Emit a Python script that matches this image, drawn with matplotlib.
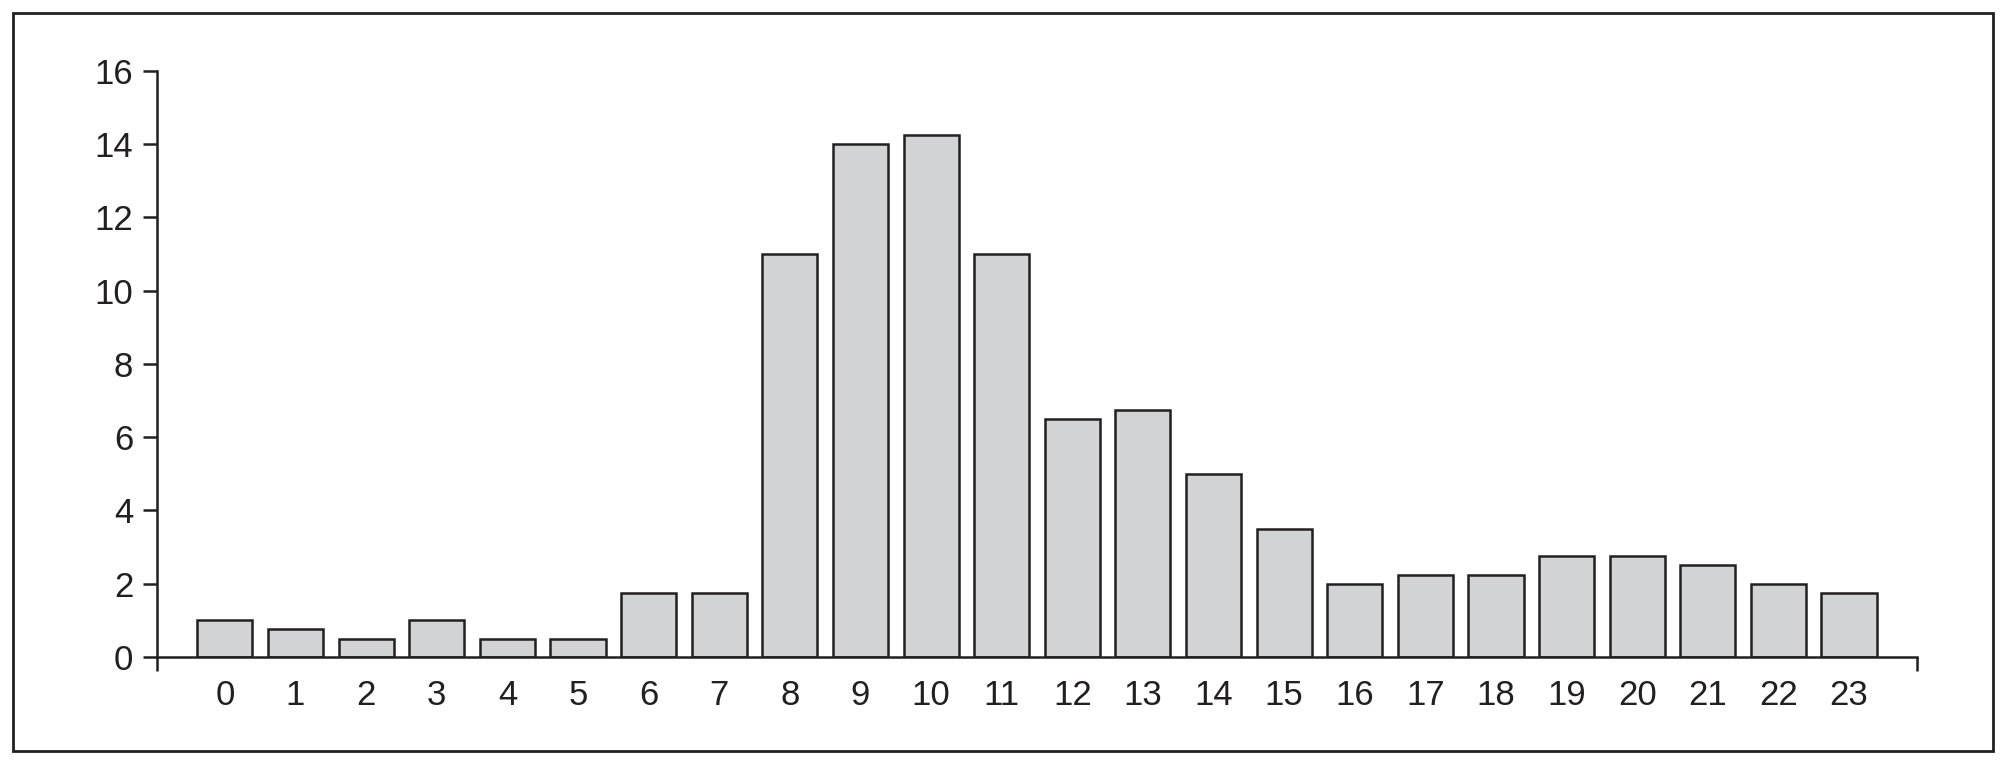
#!/usr/bin/env python3

import matplotlib

matplotlib.use("Agg")
import matplotlib.pyplot as plt
from matplotlib.patches import Rectangle

HOURS = list(range(24))
COUNTS = [
    1.0, 0.75, 0.5, 1.0, 0.5, 0.5, 1.75, 1.75,
    11.0, 14.0, 14.25, 11.0, 6.5, 6.75, 5.0, 3.5,
    2.0, 2.25, 2.25, 2.75, 2.75, 2.5, 2.0, 1.75,
]
Y_TICKS = [0, 2, 4, 6, 8, 10, 12, 14, 16]

BAR_COLOR = "#d1d3d4"
EDGE_COLOR = "#231f20"


def main():
    plt.rcParams["font.family"] = ["Liberation Sans", "DejaVu Sans"]
    fig = plt.figure(figsize=(20.12, 7.70), dpi=100)
    ax = fig.add_axes([0.078, 0.1468, 0.8748, 0.761])

    ax.bar(
        HOURS,
        COUNTS,
        width=0.78,
        color=BAR_COLOR,
        edgecolor=EDGE_COLOR,
        linewidth=1.8,
        zorder=2,
    )

    ax.set_xlim(-0.963, 23.963)
    ax.set_ylim(0, 16)

    for side in ("top", "right"):
        ax.spines[side].set_visible(False)
    for side in ("left", "bottom"):
        ax.spines[side].set_linewidth(1.8)
        ax.spines[side].set_color(EDGE_COLOR)

    # y axis: ticks pointing left
    ax.set_yticks(Y_TICKS)
    ax.tick_params(
        axis="y",
        direction="out",
        length=10,
        width=1.8,
        pad=7,
        labelsize=25,
        colors=EDGE_COLOR,
    )

    # x axis: only end ticks, hour labels without marks
    ax.set_xticks([-0.963, 23.963])
    ax.set_xticklabels(["", ""])
    ax.tick_params(axis="x", which="major", direction="out", length=10, width=1.8, color=EDGE_COLOR)
    ax.set_xticks(HOURS, minor=True)
    ax.set_xticklabels([str(h) for h in HOURS], minor=True)
    ax.tick_params(axis="x", which="minor", length=0, pad=16, labelsize=25, labelcolor=EDGE_COLOR)

    # outer frame around the figure
    fig.patches.append(
        Rectangle(
            (0.0065, 0.0247),
            0.984,
            0.958,
            transform=fig.transFigure,
            fill=False,
            edgecolor=EDGE_COLOR,
            linewidth=2.0,
        )
    )

    fig.savefig("out.png", dpi=100)


if __name__ == "__main__":
    main()
